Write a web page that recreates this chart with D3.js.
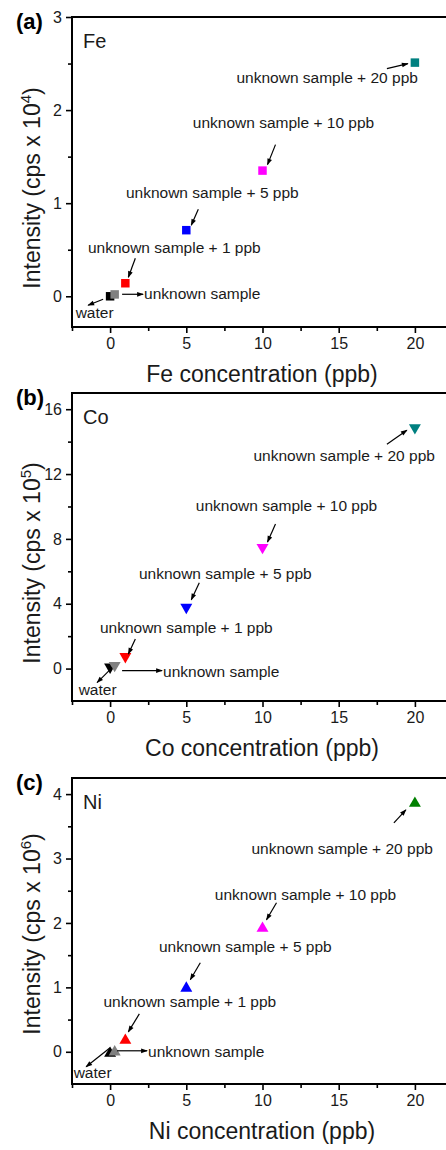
<!DOCTYPE html>
<html>
<head>
<meta charset="utf-8">
<script src="https://cdn.jsdelivr.net/npm/d3@7"></script>
<style>
  html, body { margin: 0; padding: 0; background: #fff; }
  svg { display: block; font-family: Arial, "Liberation Sans", sans-serif; }
</style>
</head>
<body>
<svg id="chart" width="446" height="1150"></svg>
<script>
// ---------------- data ----------------
const sampleLabels = ["water", "unknown sample", "unknown sample + 1 ppb", "unknown sample + 5 ppb", "unknown sample + 10 ppb", "unknown sample + 20 ppb"];
const concentrations = [0, 0.3, 1, 5, 10, 20];
const feIntensity = [0, 0.02, 0.14, 0.71, 1.35, 2.51];   // x 10^4 cps
const coIntensity = [0, 0.1, 0.65, 3.69, 7.38, 14.77];   // x 10^5 cps
const niIntensity = [0, 0.02, 0.2, 1.01, 1.94, 3.88];    // x 10^6 cps
const xTicks = [0, 5, 10, 15, 20];
const xMinorTicks = [-2.5, 2.5, 7.5, 12.5, 17.5];
const feTicks = [0, 1, 2, 3];
const feMinorTicks = [0.5, 1.5, 2.5];
const coTicks = [0, 4, 8, 12, 16];
const coMinorTicks = [2, 6, 10, 14];
const niTicks = [0, 1, 2, 3, 4];
const niMinorTicks = [0.5, 1.5, 2.5, 3.5];
const colorsA = ["#000000", "#808080", "#ff0000", "#0000ff", "#ff00ff", "#008080"];
const colorsC = ["#000000", "#808080", "#ff0000", "#0000ff", "#ff00ff", "#008000"];

// --------------- layout ---------------
const svg = d3.select("#chart");
const left = 72, right = 453;
const textColor = "#1a1a1a";

const defs = svg.append("defs");
defs.append("marker")
  .attr("id", "arrow")
  .attr("viewBox", "0 -4 9 8")
  .attr("refX", 8).attr("refY", 0)
  .attr("markerWidth", 8).attr("markerHeight", 6)
  .attr("markerUnits", "userSpaceOnUse")
  .attr("orient", "auto")
  .append("path").attr("d", "M0,-3.2L9,0L0,3.2Z").attr("fill", "#000");

const panels = [
  {
    tag: "(a)", elem: "Fe", exp: "4", top: 17, bottom: 327, domain: [-0.33, 3],
    values: feIntensity, ticks: feTicks, minor: feMinorTicks, colors: colorsA,
    symbol: "square", titleY: 188,
    // [label dx, label dy (baseline), anchor, arrow x1, y1, x2, y2] relative to point pixel
    ann: [
      [-15.5, 22, "middle", -7, 3, -22, 9],
      [34, 3, "start", 12, -2, 33, -2],
      [49, -30, "middle", 10, -25, 3, -6],
      [26, -32, "middle", 12, -21, 5, -5],
      [21, -43, "middle", 13, -26, 5, -6],
      [3, 20, "end", -28, 6, -7, 1]
    ]
  },
  {
    tag: "(b)", elem: "Co", exp: "5", top: 393, bottom: 701, domain: [-2, 17],
    values: coIntensity, ticks: coTicks, minor: coMinorTicks, colors: colorsA,
    symbol: "down", titleY: 563,
    ann: [
      [-12.5, 26, "middle", 2, -1, -13, 14],
      [53, 8, "start", 12, 2, 52, 2],
      [61, -25, "middle", 10, -19, 3, -4],
      [39, -30, "middle", 13, -26, 5, -9],
      [24, -38, "middle", 13, -25, 5, -7],
      [20, 32, "end", -28, 15, -8, 1]
    ]
  },
  {
    tag: "(c)", elem: "Ni", exp: "6", top: 778, bottom: 1084, domain: [-0.5, 4.25],
    values: niIntensity, ticks: niTicks, minor: niMinorTicks, colors: colorsC,
    symbol: "up", titleY: 934,
    ann: [
      [-17.5, 26, "middle", 0, -4, -24, 15],
      [38, 5, "start", 7, -1, 37, -1],
      [64.5, -32, "middle", 14, -25, 3, -7],
      [59, -35, "middle", 14, -24, 4, -7],
      [43, -27, "middle", 14, -24, 4, -7],
      [18, 52, "end", -21, 21, -9, 8]
    ]
  }
];

const x = d3.scaleLinear().domain([-2.5, 22.5]).range([left, right]);

panels.forEach(p => {
  const y = d3.scaleLinear().domain(p.domain).range([p.bottom, p.top]);
  const g = svg.append("g");

  // frame
  g.append("rect")
    .attr("x", left).attr("y", p.top)
    .attr("width", right - left).attr("height", p.bottom - p.top)
    .attr("fill", "none").attr("stroke", "#000").attr("stroke-width", 2);

  // y axis major
  const yAxis = d3.axisLeft(y).tickValues(p.ticks).tickSize(6).tickPadding(4).tickFormat(d3.format("d"));
  const ya = g.append("g").attr("transform", `translate(${left},0)`).call(yAxis);
  ya.select(".domain").remove();
  ya.selectAll(".tick line").attr("stroke-width", 1.6);
  ya.selectAll(".tick text").attr("font-size", 16).attr("fill", textColor)
    .attr("font-family", "Arial, 'Liberation Sans', sans-serif");
  // y axis minor
  const yMinor = d3.axisLeft(y).tickValues(p.minor).tickSize(4).tickFormat("");
  const ym = g.append("g").attr("transform", `translate(${left},0)`).call(yMinor);
  ym.select(".domain").remove();
  ym.selectAll(".tick line").attr("stroke-width", 1.6);

  // x axis major
  const xAxis = d3.axisBottom(x).tickValues(xTicks).tickSize(6).tickPadding(5).tickFormat(d3.format("d"));
  const xa = g.append("g").attr("transform", `translate(0,${p.bottom})`).call(xAxis);
  xa.select(".domain").remove();
  xa.selectAll(".tick line").attr("stroke-width", 1.6);
  xa.selectAll(".tick text").attr("font-size", 16).attr("fill", textColor)
    .attr("font-family", "Arial, 'Liberation Sans', sans-serif");
  const xMinor = d3.axisBottom(x).tickValues(xMinorTicks).tickSize(4).tickFormat("");
  const xm = g.append("g").attr("transform", `translate(0,${p.bottom})`).call(xMinor);
  xm.select(".domain").remove();
  xm.selectAll(".tick line").attr("stroke-width", 1.6);

  // panel tag
  g.append("text").attr("x", 16).attr("y", p.top + 12)
    .attr("font-size", 22).attr("font-weight", "bold").attr("fill", "#000").text(p.tag);
  // element label
  g.append("text").attr("x", 83).attr("y", p.top + 31)
    .attr("font-size", 20).attr("fill", textColor).text(p.elem);

  // x title
  g.append("text").attr("x", 262).attr("y", p.bottom + 55)
    .attr("text-anchor", "middle").attr("font-size", 23).attr("fill", textColor)
    .text(p.elem + " concentration (ppb)");

  // y title
  const yt = g.append("text")
    .attr("transform", `translate(40,${p.titleY}) rotate(-90)`)
    .attr("text-anchor", "middle").attr("font-size", 23).attr("fill", textColor);
  yt.append("tspan").text("Intensity (cps x 10");
  yt.append("tspan").attr("font-size", 15).attr("dy", -9).text(p.exp);
  yt.append("tspan").attr("dy", 9).text(")");

  // markers
  let sym, rot = 0, size;
  if (p.symbol === "square") { sym = d3.symbolSquare; size = 72; }
  else { sym = d3.symbolTriangle; size = 62; rot = p.symbol === "down" ? 180 : 0; }
  const pts = concentrations.map((c, i) => ({ c, v: p.values[i], col: p.colors[i], label: sampleLabels[i], a: p.ann[i] }));

  g.selectAll("path.pt").data(pts).enter().append("path")
    .attr("class", "pt")
    .attr("d", d3.symbol().type(sym).size(size))
    .attr("transform", d => `translate(${x(d.c)},${y(d.v) + (p.symbol === "down" ? -1.5 : (p.symbol === "up" ? 1.5 : 0))}) rotate(${rot})`)
    .attr("fill", d => d.col);

  // annotations
  pts.forEach((d, i) => {
    const ax = i < 2 ? x(0) : x(d.c);
    const ay = i < 2 ? y(0) : y(d.v);
    const a = d.a;
    g.append("text").attr("x", ax + a[0]).attr("y", ay + a[1])
      .attr("text-anchor", a[2]).attr("font-size", 15.5).attr("fill", textColor).text(d.label);
    g.append("line")
      .attr("x1", ax + a[3]).attr("y1", ay + a[4])
      .attr("x2", ax + a[5]).attr("y2", ay + a[6])
      .attr("stroke", "#000").attr("stroke-width", 1.2)
      .attr("marker-end", "url(#arrow)");
  });
});
</script>
</body>
</html>
